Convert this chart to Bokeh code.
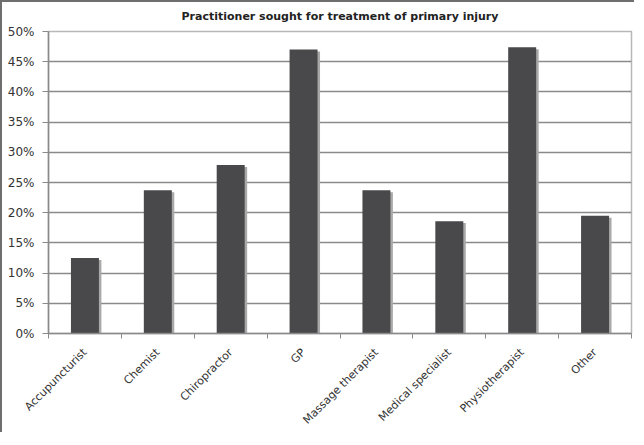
import math
from bokeh.plotting import figure
from bokeh.models import FixedTicker, PrintfTickFormatter, Title, ColumnDataSource, Range1d
from bokeh.embed import file_html
from bokeh.resources import INLINE

title_text = "Practitioner sought for treatment of primary injury"
categories = ["Accupuncturist", "Chemist", "Chiropractor", "GP", "Massage therapist",
              "Medical specialist", "Physiotherapist", "Other"]
values = [12.5, 23.7, 27.9, 47.0, 23.7, 18.6, 47.4, 19.5]
y_ticks = [0, 5, 10, 15, 20, 25, 30, 35, 40, 45, 50]

centers = [i + 0.5 for i in range(len(categories))]
bounds = list(range(len(categories) + 1))

src = ColumnDataSource(dict(
    x=centers,
    top=values,
    xs=[c + 0.034 for c in centers],
    tops=[v - 0.32 for v in values],
))

p = figure(width=634, height=432, output_backend="svg", toolbar_location=None,
           x_range=Range1d(0, len(categories)), y_range=Range1d(0, 50),
           min_border_left=46, min_border_right=5, min_border_top=0, min_border_bottom=97)
p.styles = {"border-top": "2px solid #6e6e6e", "border-left": "2px solid #6e6e6e"}

t = Title(text=title_text, align="center", vertical_align="top",
          text_font="DejaVu Sans", text_font_size="11px", text_font_style="bold",
          text_color="#222222", standoff=14, offset=-13)
p.add_layout(t, "above")

p.vbar(x="xs", top="tops", width=0.384, source=src, fill_color="#a9a9a9", line_color=None)
p.vbar(x="x", top="top", width=0.384, source=src, fill_color="#49494b", line_color=None)

p.outline_line_color = "#b8b8b8"
p.outline_line_width = 1.5
p.background_fill_color = "white"

p.xgrid.visible = False
p.ygrid.grid_line_color = "#8a8a8a"
p.ygrid.grid_line_width = 1.5
p.ygrid.ticker = FixedTicker(ticks=y_ticks)

p.yaxis.ticker = FixedTicker(ticks=y_ticks)
p.yaxis.formatter = PrintfTickFormatter(format="%d%%")
p.yaxis.axis_line_color = "#8a8a8a"
p.yaxis.axis_line_width = 1.5
p.yaxis.major_tick_line_color = "#8a8a8a"
p.yaxis.major_tick_out = 6
p.yaxis.major_tick_in = 0
p.yaxis.minor_tick_line_color = None
p.yaxis.major_label_text_font = "DejaVu Sans"
p.yaxis.major_label_text_font_size = "12px"
p.yaxis.major_label_text_color = "#333333"
p.yaxis.major_label_standoff = 8

p.xaxis.ticker = FixedTicker(ticks=centers, minor_ticks=bounds)
p.xaxis.major_label_overrides = {c: name for c, name in zip(centers, categories)}
p.xaxis.major_label_orientation = math.pi / 4
p.xaxis.axis_line_color = "#8a8a8a"
p.xaxis.axis_line_width = 1.5
p.xaxis.major_tick_line_color = None
p.xaxis.minor_tick_line_color = "#8a8a8a"
p.xaxis.minor_tick_out = 5
p.xaxis.minor_tick_in = 0
p.xaxis.major_label_text_font = "DejaVu Sans"
p.xaxis.major_label_text_font_size = "11px"
p.xaxis.major_label_text_color = "#333333"
p.xaxis.major_label_standoff = 11

open("out.html", "w").write(file_html(p, INLINE))
